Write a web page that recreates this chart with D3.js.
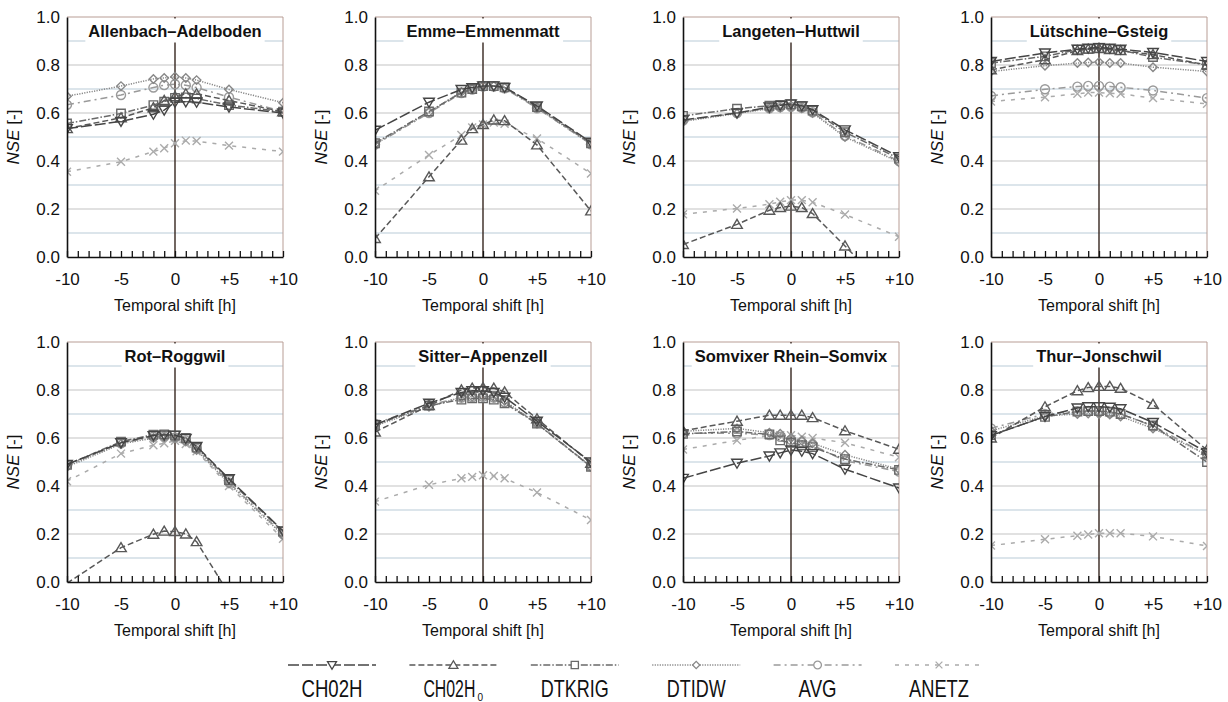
<!DOCTYPE html>
<html><head><meta charset="utf-8">
<script src="https://cdn.jsdelivr.net/npm/d3@7"></script>
<style>
body{margin:0;background:#fff}
svg{display:block}
text{font-family:"Liberation Sans",Arial,Helvetica,sans-serif;fill:#111}
</style>
</head><body>
<svg id="chart" width="1228" height="702"></svg>
<script>
// ---------- DATA ----------
const shifts = [-10, -5, -2, -1, 0, 1, 2, 5, 10];
const stations = ["Allenbach–Adelboden", "Emme–Emmenmatt", "Langeten–Huttwil", "Lütschine–Gsteig",
                  "Rot–Roggwil", "Sitter–Appenzell", "Somvixer Rhein–Somvix", "Thur–Jonschwil"];
const seriesNames = ["CH02H", "CH02H0", "DTKRIG", "DTIDW", "AVG", "ANETZ"];
const xTickValues = [-10, -5, 0, 5, 10];
const xTickLabels = ["-10", "-5", "0", "+5", "+10"];
const yTickValues = [0, 0.2, 0.4, 0.6, 0.8, 1.0];
const yTickLabels = ["0.0", "0.2", "0.4", "0.6", "0.8", "1.0"];

// one row per station, one value per shift
const CH02H = [
  [0.535, 0.565, 0.595, 0.612, 0.645, 0.647, 0.645, 0.625, 0.600],
  [0.528, 0.645, 0.698, 0.706, 0.713, 0.713, 0.707, 0.630, 0.478],
  [0.571, 0.600, 0.625, 0.632, 0.638, 0.630, 0.614, 0.530, 0.418],
  [0.815, 0.850, 0.866, 0.870, 0.873, 0.870, 0.866, 0.852, 0.815],
  [0.490, 0.580, 0.610, 0.612, 0.612, 0.598, 0.565, 0.430, 0.213],
  [0.655, 0.745, 0.790, 0.797, 0.797, 0.790, 0.770, 0.670, 0.500],
  [0.432, 0.495, 0.525, 0.538, 0.550, 0.545, 0.535, 0.470, 0.392],
  [0.610, 0.690, 0.725, 0.730, 0.730, 0.728, 0.722, 0.665, 0.540]
];
const CH02H0 = [
  [0.535, 0.580, 0.622, 0.652, 0.668, 0.680, 0.680, 0.652, 0.605],
  [0.077, 0.334, 0.487, 0.535, 0.552, 0.571, 0.568, 0.467, 0.192],
  [0.052, 0.136, 0.195, 0.206, 0.212, 0.206, 0.181, 0.046, -0.184],
  [0.780, 0.822, 0.860, 0.866, 0.869, 0.864, 0.860, 0.843, 0.800],
  [-0.005, 0.143, 0.199, 0.212, 0.210, 0.200, 0.168, -0.050, -0.450],
  [0.625, 0.735, 0.800, 0.808, 0.810, 0.808, 0.792, 0.680, 0.495],
  [0.630, 0.670, 0.695, 0.695, 0.695, 0.695, 0.685, 0.630, 0.553],
  [0.600, 0.730, 0.797, 0.810, 0.815, 0.815, 0.807, 0.740, 0.550]
];
const DTKRIG = [
  [0.556, 0.598, 0.633, 0.647, 0.663, 0.665, 0.660, 0.633, 0.605],
  [0.474, 0.606, 0.685, 0.700, 0.712, 0.712, 0.707, 0.625, 0.474],
  [0.588, 0.618, 0.630, 0.634, 0.636, 0.628, 0.610, 0.520, 0.410],
  [0.808, 0.836, 0.864, 0.867, 0.870, 0.867, 0.862, 0.833, 0.800],
  [0.488, 0.585, 0.614, 0.615, 0.610, 0.600, 0.560, 0.425, 0.210],
  [0.655, 0.735, 0.760, 0.765, 0.765, 0.760, 0.745, 0.660, 0.480],
  [0.617, 0.627, 0.615, 0.590, 0.580, 0.570, 0.562, 0.512, 0.467],
  [0.612, 0.688, 0.710, 0.712, 0.712, 0.710, 0.700, 0.652, 0.500]
];
const DTIDW = [
  [0.670, 0.712, 0.742, 0.746, 0.751, 0.746, 0.737, 0.698, 0.643],
  [0.470, 0.603, 0.688, 0.700, 0.712, 0.712, 0.705, 0.622, 0.470],
  [0.565, 0.598, 0.618, 0.622, 0.624, 0.620, 0.600, 0.500, 0.395],
  [0.773, 0.797, 0.808, 0.810, 0.812, 0.808, 0.808, 0.791, 0.773],
  [0.480, 0.575, 0.600, 0.603, 0.600, 0.585, 0.550, 0.410, 0.195],
  [0.650, 0.730, 0.770, 0.772, 0.775, 0.770, 0.755, 0.660, 0.480],
  [0.628, 0.640, 0.622, 0.618, 0.600, 0.590, 0.578, 0.530, 0.470],
  [0.630, 0.692, 0.700, 0.702, 0.700, 0.698, 0.690, 0.640, 0.530]
];
const AVG = [
  [0.634, 0.675, 0.706, 0.716, 0.720, 0.716, 0.706, 0.666, 0.606],
  [0.468, 0.600, 0.683, 0.698, 0.710, 0.710, 0.703, 0.620, 0.470],
  [0.568, 0.600, 0.620, 0.625, 0.626, 0.622, 0.603, 0.505, 0.400],
  [0.671, 0.699, 0.710, 0.713, 0.713, 0.710, 0.707, 0.694, 0.662],
  [0.485, 0.578, 0.605, 0.606, 0.602, 0.590, 0.555, 0.415, 0.200],
  [0.660, 0.738, 0.768, 0.770, 0.772, 0.768, 0.750, 0.662, 0.482],
  [0.620, 0.620, 0.612, 0.605, 0.592, 0.582, 0.570, 0.505, 0.460],
  [0.640, 0.700, 0.712, 0.713, 0.712, 0.705, 0.700, 0.650, 0.530]
];
const ANETZ = [
  [0.355, 0.397, 0.439, 0.453, 0.474, 0.485, 0.483, 0.464, 0.439],
  [0.276, 0.425, 0.508, 0.540, 0.552, 0.560, 0.555, 0.494, 0.348],
  [0.178, 0.202, 0.220, 0.230, 0.237, 0.237, 0.228, 0.177, 0.084],
  [0.648, 0.666, 0.680, 0.685, 0.685, 0.682, 0.680, 0.662, 0.638],
  [0.420, 0.535, 0.570, 0.578, 0.588, 0.575, 0.545, 0.400, 0.180],
  [0.335, 0.405, 0.432, 0.438, 0.445, 0.442, 0.432, 0.373, 0.258],
  [0.552, 0.590, 0.610, 0.612, 0.612, 0.605, 0.600, 0.580, 0.520],
  [0.152, 0.178, 0.193, 0.198, 0.203, 0.203, 0.203, 0.190, 0.150]
];
const seriesData = {CH02H, CH02H0, DTKRIG, DTIDW, AVG, ANETZ};

// ---------- STYLE ----------
const styles = {
  CH02H:  {color: "#454545", dash: "11,3",        marker: "down"},
  CH02H0: {color: "#585858", dash: "6,3",         marker: "up"},
  DTKRIG: {color: "#696969", dash: "7,2,1.5,2",   marker: "square"},
  DTIDW:  {color: "#878787", dash: "1.2,1.3",     marker: "diamond"},
  AVG:    {color: "#9a9a9a", dash: "7,4,2,4",     marker: "circle"},
  ANETZ:  {color: "#ababab", dash: "4,6",         marker: "x"}
};
const drawOrder = ["ANETZ", "AVG", "DTIDW", "DTKRIG", "CH02H0", "CH02H"];

function markerPath(type, s) {
  switch (type) {
    case "down": return `M${-s},${-s*0.75}L${s},${-s*0.75}L0,${s*0.95}Z`;
    case "up": return `M${-s},${s*0.75}L${s},${s*0.75}L0,${-s*0.95}Z`;
    case "square": { const h = s*0.8; return `M${-h},${-h}H${h}V${h}H${-h}Z`; }
    case "diamond": { const h = s*0.8; return `M0,${-h}L${h},0L0,${h}L${-h},0Z`; }
    case "circle": { const r = s*0.85; return `M${r},0A${r},${r} 0 1,1 ${-r},0A${r},${r} 0 1,1 ${r},0Z`; }
    case "x": { const h = s*0.75; return `M${-h},${-h}L${h},${h}M${-h},${h}L${h},${-h}`; }
  }
}

const svg = d3.select("#chart");
const colLeft = [67, 375, 683, 991];
const rowTop = [17, 342];
const pw = 216, ph = 240;

stations.forEach((name, si) => {
  const left = colLeft[si % 4], top = rowTop[Math.floor(si / 4)];
  const x = d3.scaleLinear().domain([-10, 10]).range([left, left + pw]);
  const y = d3.scaleLinear().domain([0, 1]).range([top + ph, top]);
  const g = svg.append("g");

  // gridlines
  g.selectAll("line.grid").data(d3.range(1, 10).map(i => i / 10)).join("line")
    .attr("x1", left).attr("x2", left + pw)
    .attr("y1", d => y(d)).attr("y2", d => y(d))
    .attr("stroke", (d, i) => (i % 2 === 0 ? "#b9ccd8" : "#c3c3c3"))
    .attr("stroke-width", 1.2);

  // top / right border
  g.append("path")
    .attr("d", `M${left},${y(1)}H${left + pw}V${y(0)}`)
    .attr("fill", "none").attr("stroke", "#b89d95").attr("stroke-width", 1);

  // zero line
  g.append("line").attr("x1", x(0)).attr("x2", x(0)).attr("y1", y(1)).attr("y2", y(0))
    .attr("stroke", "#35261f").attr("stroke-width", 1.4);

  // clip
  const cid = "clip" + si;
  svg.append("clipPath").attr("id", cid).append("rect")
    .attr("x", left).attr("y", top).attr("width", pw).attr("height", ph);

  const line = d3.line().x(d => x(d[0])).y(d => y(d[1]));
  drawOrder.forEach(key => {
    const st = styles[key];
    const pts = shifts.map((s, i) => [s, seriesData[key][si][i]]);
    const sg = g.append("g").attr("clip-path", `url(#${cid})`);
    sg.append("path").attr("d", line(pts)).attr("fill", "none")
      .attr("stroke", st.color).attr("stroke-width", 1.5).attr("stroke-dasharray", st.dash);
    sg.selectAll("path.m").data(pts.filter(p => p[1] >= 0 && p[1] <= 1)).join("path")
      .attr("class", "m")
      .attr("transform", d => `translate(${x(d[0])},${y(d[1])})`)
      .attr("d", markerPath(st.marker, 5.3))
      .attr("fill", "none").attr("stroke", st.color).attr("stroke-width", 1.4);
  });

  // title with white box
  const tg = g.append("g");
  const tt = tg.append("text").attr("x", left + pw / 2).attr("y", top + 20)
    .attr("text-anchor", "middle").attr("font-size", 16.5).attr("font-weight", "bold").text(name);
  const bb = tt.node().getBBox();
  tg.insert("rect", "text").attr("x", bb.x - 3).attr("y", top + 1.5)
    .attr("width", bb.width + 6).attr("height", bb.y + bb.height - top + 1)
    .attr("fill", "#fff");

  // axes
  const ya = d3.axisLeft(y).tickValues(yTickValues)
    .tickFormat((d, i) => yTickLabels[i]).tickSize(0).tickPadding(7);
  const yg = g.append("g").attr("transform", `translate(${left},0)`).call(ya);
  yg.select(".domain").attr("stroke", "#111").attr("stroke-width", 1.6);
  yg.selectAll("text").attr("font-size", 17).attr("fill", "#222");

  const xa = d3.axisBottom(x).tickValues(d3.range(-10, 11))
    .tickFormat(d => { const k = xTickValues.indexOf(d); return k >= 0 ? xTickLabels[k] : ""; })
    .tickSizeInner(-6).tickSizeOuter(0).tickPadding(16);
  const xg = g.append("g").attr("transform", `translate(0,${top + ph})`).call(xa);
  xg.select(".domain").attr("stroke", "#111").attr("stroke-width", 1.6);
  xg.selectAll(".tick line").attr("stroke", "#111").attr("stroke-width", 1.3);
  xg.selectAll("text").attr("font-size", 17).attr("fill", "#222");

  // axis titles
  g.append("text").attr("x", left + pw / 2).attr("y", top + ph + 54)
    .attr("text-anchor", "middle").attr("font-size", 16).text("Temporal shift [h]");
  const yt = g.append("text")
    .attr("transform", `translate(${left - 48},${top + ph / 2}) rotate(-90)`)
    .attr("text-anchor", "middle").attr("font-size", 17);
  yt.append("tspan").attr("font-style", "italic").text("NSE");
  yt.append("tspan").text(" [-]");
});

// ---------- LEGEND ----------
const lx = d3.scalePoint().domain(seriesNames).range([332, 939]);
const labelWidths = {CH02H: 61, CH02H0: 52, DTKRIG: 68, DTIDW: 59, AVG: 38, ANETZ: 60};
const lg = svg.append("g");

// condensed label: scale horizontally so the visual width matches the reference
function condensedText(xLeft, yBase, str, width, size) {
  const t = lg.append("text").attr("font-size", size).text(str);
  const natural = t.node().getComputedTextLength();
  const sx = width / natural;
  t.attr("transform", `translate(${xLeft},${yBase}) scale(${sx},1)`);
  return t;
}

seriesNames.forEach(key => {
  const st = styles[key];
  const cx = lx(key);
  lg.append("line").attr("x1", cx - 44).attr("x2", cx + 44).attr("y1", 665).attr("y2", 665)
    .attr("stroke", st.color).attr("stroke-width", 1.5).attr("stroke-dasharray", st.dash);
  lg.append("path").attr("transform", `translate(${cx},665)`)
    .attr("d", markerPath(st.marker, 4.5))
    .attr("fill", "#fff").attr("stroke", st.color).attr("stroke-width", 1.3);
  if (key === "CH02H0") {
    condensedText(cx - 30, 697, "CH02H", labelWidths[key], 24);
    lg.append("text").attr("x", cx - 30 + labelWidths[key] + 2).attr("y", 701)
      .attr("font-size", 10).text("0");
  } else {
    condensedText(cx - labelWidths[key] / 2, 697, key, labelWidths[key], 24);
  }
});
</script>
</body></html>
